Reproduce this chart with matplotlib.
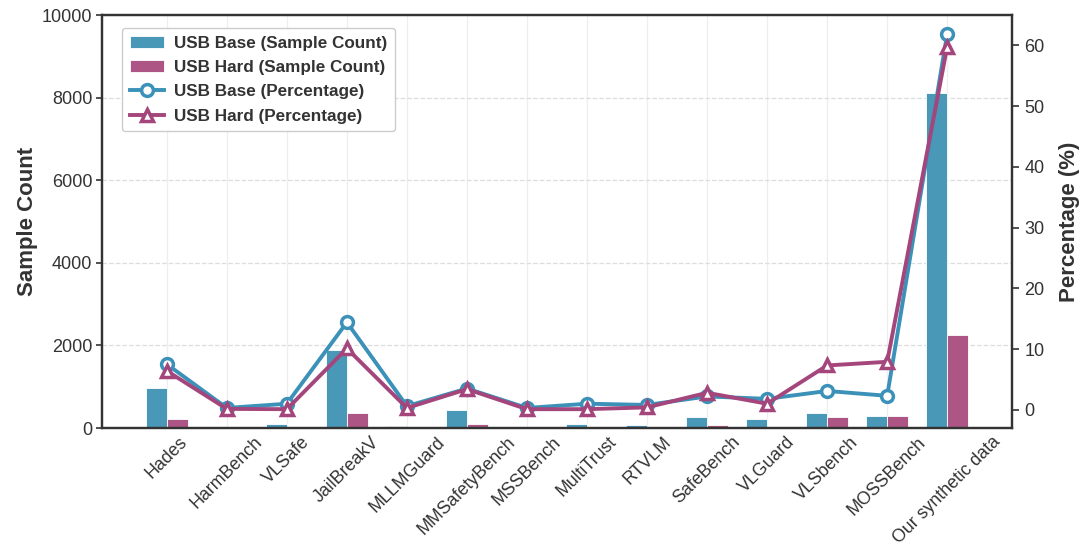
import numpy as np
import matplotlib
matplotlib.use("Agg")
import matplotlib.pyplot as plt

plt.rcParams["font.family"] = ["Liberation Sans", "DejaVu Sans"]
plt.rcParams["text.color"] = "#333333"
plt.rcParams["axes.labelcolor"] = "#333333"
plt.rcParams["xtick.color"] = "#333333"
plt.rcParams["ytick.color"] = "#333333"

datasets = ["Hades", "HarmBench", "VLSafe", "JailBreakV", "MLLMGuard",
            "MMSafetyBench", "MSSBench", "MultiTrust", "RTVLM", "SafeBench",
            "VLGuard", "VLSbench", "MOSSBench", "Our synthetic data"]

base_counts = [960, 0, 105, 1890, 55, 436, 0, 100, 65, 274, 226, 371, 283, 8120]
hard_counts = [218, 0, 0, 355, 0, 105, 0, 0, 0, 80, 0, 258, 283, 2250]

base_pct = [7.5, 0.3, 1.0, 14.4, 0.6, 3.5, 0.3, 1.0, 0.8, 2.2, 1.8, 3.1, 2.3, 61.9]
hard_pct = [6.4, 0.15, 0.1, 10.1, 0.3, 3.4, 0.1, 0.1, 0.4, 2.8, 1.0, 7.3, 7.9, 59.8]

count_ticks = [0, 2000, 4000, 6000, 8000, 10000]
pct_ticks = [0, 10, 20, 30, 40, 50, 60]

bar_base_color = "#4a98b8"
bar_hard_color = "#ad5685"
line_base_color = "#3b91b8"
line_hard_color = "#a4467c"

fig = plt.figure(figsize=(10.86, 5.46), dpi=100)
ax = fig.add_axes([0.0939, 0.2161, 0.8380, 0.7564])
ax2 = ax.twinx()

x = np.arange(len(datasets))
width = 0.35

b1 = ax.bar(x - width / 2, base_counts, width, color=bar_base_color,
            edgecolor="white", linewidth=0.6, label="USB Base (Sample Count)", zorder=2)
b2 = ax.bar(x + width / 2, hard_counts, width, color=bar_hard_color,
            edgecolor="white", linewidth=0.6, label="USB Hard (Sample Count)", zorder=2)

l1, = ax2.plot(x, base_pct, color=line_base_color, lw=2.8, marker="o",
               markersize=8.5, markerfacecolor="white", markeredgewidth=2.5,
               markeredgecolor=line_base_color, label="USB Base (Percentage)")
l2, = ax2.plot(x, hard_pct, color=line_hard_color, lw=2.8, marker="^",
               markersize=9, markerfacecolor="white", markeredgewidth=2.5,
               markeredgecolor=line_hard_color, label="USB Hard (Percentage)")

ax.set_xlim(-1.08, 14.08)
ax.set_ylim(0, 10000)
ax.set_yticks(count_ticks)
ax2.set_ylim(-3, 65)
ax2.set_yticks(pct_ticks)

ax.set_xticks(x)
ax.set_xticklabels(datasets, rotation=45, ha="center", fontsize=12.8)
ax.tick_params(axis="x", length=0, pad=4)
ax.tick_params(axis="y", labelsize=13, length=4, width=1.2, direction="out", pad=3)
ax2.tick_params(axis="y", labelsize=13, length=5, width=1.2, direction="out", pad=4)

ax.set_ylabel("Sample Count", fontsize=16, fontweight="bold", labelpad=3)
ax2.set_ylabel("Percentage (%)", fontsize=16, fontweight="bold", labelpad=10)

ax.set_axisbelow(True)
ax.grid(axis="y", linestyle="--", color="#dddddd", linewidth=0.9)
ax.grid(axis="x", linestyle="-", color="#eeeeee", linewidth=0.9)

for a in (ax, ax2):
    for s in a.spines.values():
        s.set_color("#333333")
        s.set_linewidth(1.6)

leg = ax2.legend(handles=[b1, b2, l1, l2], loc="upper left",
                 bbox_to_anchor=(0.022, 0.969), borderaxespad=0,
                 prop={"weight": "bold", "size": 12.3}, frameon=True,
                 fancybox=True, framealpha=1.0, edgecolor="#cccccc",
                 handlelength=2.0, handletextpad=0.6, labelspacing=0.55,
                 borderpad=0.45)
for t in leg.get_texts():
    t.set_color("#333333")

fig.savefig("out.png", dpi=100)
